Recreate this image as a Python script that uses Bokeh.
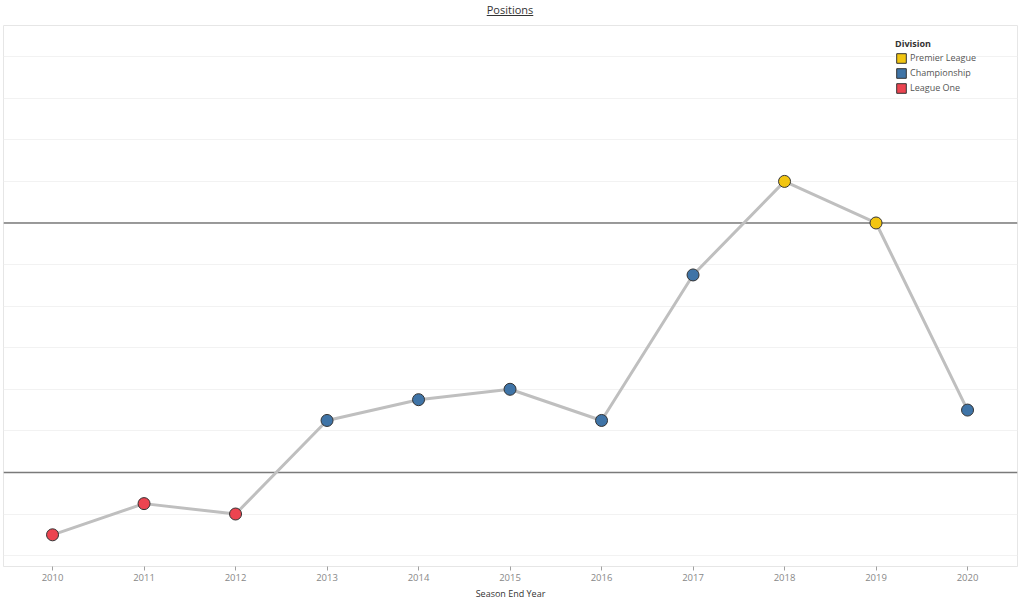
from bokeh.plotting import figure
from bokeh.models import Range1d, FixedTicker, Span, Legend, LegendItem, ColumnDataSource, Div
from bokeh.layouts import column
from bokeh.embed import file_html
from bokeh.resources import INLINE

# ---- data ----
years = [2010, 2011, 2012, 2013, 2014, 2015, 2016, 2017, 2018, 2019, 2020]
positions = [50, 47, 48, 39, 37, 36, 39, 25, 16, 20, 38]
divisions = ["League One", "League One", "League One",
             "Championship", "Championship", "Championship", "Championship", "Championship",
             "Premier League", "Premier League", "Championship"]
division_order = ["Premier League", "Championship", "League One"]
division_colors = ["#F2C511", "#3F74A7", "#EC4450"]
boundary_positions = [20, 44]
grid_positions = list(range(4, 53, 4))

color_map = dict(zip(division_order, division_colors))
src = ColumnDataSource(dict(x=years, y=positions, d=divisions,
                            c=[color_map[d] for d in divisions]))

FONT = "Open Sans"

p = figure(width=1020, height=584,
           x_range=Range1d(2009.464, 2020.546), y_range=Range1d(53.05, 1.0),
           output_backend="svg", toolbar_location=None,
           min_border_left=3, min_border_right=3, min_border_top=7, min_border_bottom=30)

p.outline_line_color = "#E6E6E6"
p.xgrid.visible = False
p.ygrid.ticker = FixedTicker(ticks=grid_positions)
p.ygrid.grid_line_color = "#F2F2F2"
p.ygrid.grid_line_width = 1
p.yaxis.visible = False

ax = p.xaxis[0]
ax.ticker = FixedTicker(ticks=years)
ax.axis_line_color = "#E6E6E6"
ax.major_tick_line_color = "#A0A0A0"
ax.major_tick_out = 4
ax.major_tick_in = 0
ax.minor_tick_line_color = None
ax.major_label_text_font = FONT
ax.major_label_text_font_size = "9.5px"
ax.major_label_text_color = "#888888"
ax.major_label_standoff = 3
ax.axis_label = "Season End Year"
ax.axis_label_text_font = FONT
ax.axis_label_text_font_size = "9px"
ax.axis_label_text_font_style = "normal"
ax.axis_label_text_color = "#333333"
ax.axis_label_standoff = 3

for b in boundary_positions:
    p.add_layout(Span(location=b, dimension="width", line_color="#7A7A7A",
                      line_width=1.5, level="underlay"))

p.line("x", "y", source=src, line_color="#BFBFBF", line_width=3)
p.scatter("x", "y", source=src, size=12, fill_color="c", line_color="#333333", line_width=1)

# legend swatches: one off-screen square per division (never visible in the frame)
off_x = years[0] - 100
items = []
for name, col in zip(division_order, division_colors):
    r = p.quad(left=[off_x], right=[off_x + 1], top=[positions[0]], bottom=[positions[0] + 1],
               fill_color=col, line_color="#333333", line_width=1)
    items.append(LegendItem(label=name, renderers=[r]))

legend = Legend(items=items, title="Division", location=(892, 472),
                title_text_font=FONT, title_text_font_size="9px",
                title_text_font_style="bold", title_text_color="#333333",
                label_text_font=FONT, label_text_font_size="9px",
                label_text_color="#555555",
                glyph_width=12, glyph_height=12, label_height=12,
                spacing=2, padding=4, label_standoff=3, title_standoff=1,
                border_line_color=None, background_fill_color="white",
                background_fill_alpha=1)
p.add_layout(legend)

title = Div(text="<u>Positions</u>", width=1020, height=18, margin=0,
            styles={"text-align": "center", "font-family": FONT,
                    "font-size": "11px", "color": "#333333", "line-height": "20px"})

layout = column(title, p, spacing=0)

open("out.html", "w").write(file_html(layout, INLINE))
